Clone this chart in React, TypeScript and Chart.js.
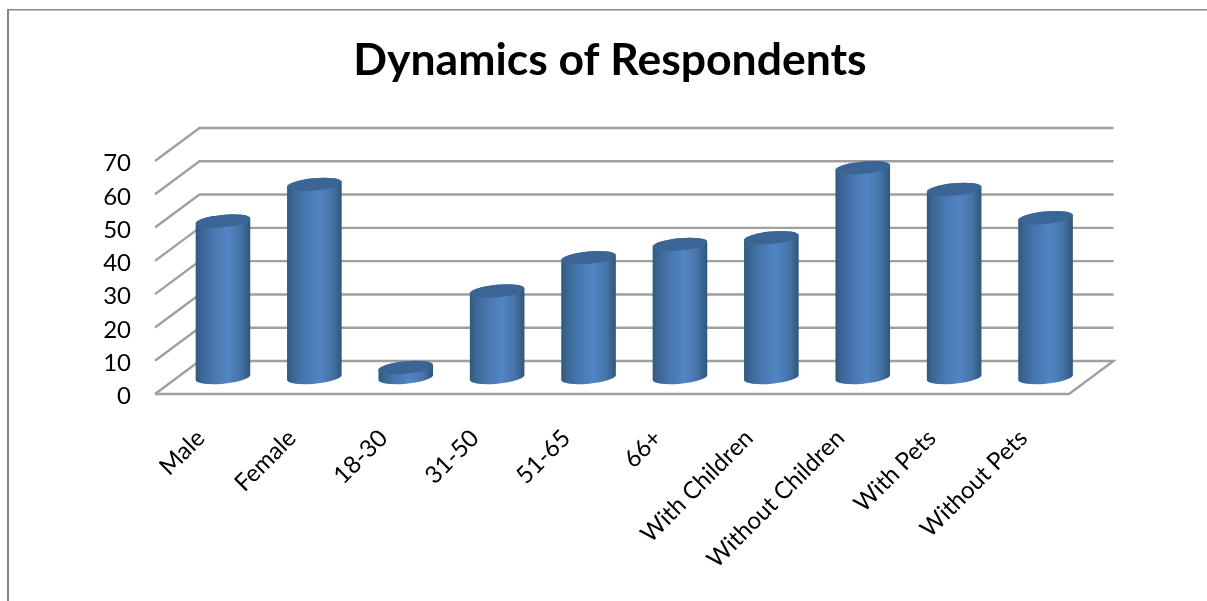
import React, { useEffect, useRef } from "react";
import { Chart, registerables } from "chart.js";

Chart.register(...registerables);

const categories = [
  "Male", "Female", "18-30", "31-50", "51-65", "66+",
  "With Children", "Without Children", "With Pets", "Without Pets",
];
const respondents = [47, 58, 3, 26, 36, 40, 42, 63, 56.5, 48];
const yTicks = [0, 10, 20, 30, 40, 50, 60, 70];

// Offset from the front plane to the back wall of the pseudo-3D box.
const DEPTH_X = 44.5;
const DEPTH_Y = 33;
const GRID = "#a0a0a0";

// Frame of the chart, open towards the page edges.
const framePlugin = {
  id: "frame",
  beforeDraw(chart: any) {
    const { ctx, width, height } = chart;
    ctx.save();
    ctx.fillStyle = "#ffffff";
    ctx.fillRect(0, 0, width, height);
    ctx.fillStyle = "#c4c4c4";
    ctx.fillRect(9, 10, width - 9, 1);
    ctx.fillStyle = "#868686";
    ctx.fillRect(7, 9, 2, height - 9);
    ctx.fillRect(7, 9, width - 7, 1);
    ctx.restore();
  },
};

// Back wall gridlines, side wall diagonals and the floor.
const boxPlugin = {
  id: "box",
  beforeDatasetsDraw(chart: any) {
    const { ctx, chartArea, scales } = chart;
    const { left, right } = chartArea;
    ctx.save();
    ctx.strokeStyle = GRID;
    ctx.lineWidth = 2.4;
    scales.y.ticks.forEach((tick: any) => {
      const y = scales.y.getPixelForValue(tick.value);
      ctx.beginPath();
      ctx.moveTo(left, y);
      ctx.lineTo(left + DEPTH_X, y - DEPTH_Y);
      ctx.lineTo(right + DEPTH_X, y - DEPTH_Y);
      if (tick.value === 0) {
        ctx.lineTo(right, y);
        ctx.lineTo(left, y);
      }
      ctx.stroke();
    });
    ctx.restore();
  },
};

// Each bar element is painted as a tilted cylinder standing mid-way into the box.
const cylinderPlugin = {
  id: "cylinder",
  afterDatasetsDraw(chart: any) {
    const { ctx } = chart;
    const tilt = -0.095;
    chart.getDatasetMeta(0).data.forEach((bar: any) => {
      const cx = bar.x + DEPTH_X / 2;
      const top = bar.y - DEPTH_Y / 2;
      const base = bar.base - DEPTH_Y / 2;
      const rx = bar.width / 2;
      const ry = 6.2;
      const grad = ctx.createLinearGradient(cx - rx, 0, cx + rx, 0);
      grad.addColorStop(0, "#31597f");
      grad.addColorStop(0.12, "#3c6796");
      grad.addColorStop(0.3, "#4776ad");
      grad.addColorStop(0.58, "#5285c5");
      grad.addColorStop(0.82, "#4674a8");
      grad.addColorStop(1, "#30557a");
      ctx.save();
      ctx.beginPath();
      ctx.ellipse(cx, base, rx, ry, tilt, 0, Math.PI);
      ctx.ellipse(cx, top, rx, ry, tilt, Math.PI, Math.PI * 2);
      ctx.closePath();
      ctx.fillStyle = grad;
      ctx.fill();
      ctx.beginPath();
      ctx.ellipse(cx, top, rx, ry, tilt, 0, Math.PI * 2);
      ctx.fillStyle = "#3b6595";
      ctx.fill();
      ctx.restore();
    });
  },
};

export default function App() {
  const ref = useRef<HTMLCanvasElement>(null);

  useEffect(() => {
    const chart = new Chart(ref.current!, {
      type: "bar",
      data: {
        labels: categories,
        datasets: [
          {
            label: "Respondents",
            data: respondents,
            backgroundColor: "transparent",
            categoryPercentage: 1,
            barPercentage: 0.6,
          },
        ],
      },
      options: {
        responsive: false,
        animation: false,
        layout: { padding: { left: 13, right: 0, top: 0, bottom: 0 } },
        plugins: {
          legend: { display: false },
          tooltip: { enabled: false },
          title: {
            display: true,
            text: "Dynamics of Respondents",
            color: "#000000",
            font: { family: "Lato", size: 44.5, weight: "bold", lineHeight: 1.2 },
            padding: { top: 34, bottom: 73.6 },
          },
        },
        scales: {
          x: {
            grid: { display: false },
            border: { display: false },
            afterFit(scale: any) {
              scale.height = 207;
            },
            ticks: {
              autoSkip: false,
              minRotation: 45,
              maxRotation: 45,
              padding: 22,
              color: "#000000",
              font: { family: "Lato", size: 24 },
            },
          },
          y: {
            min: 0,
            max: 70,
            grid: { display: false },
            border: { display: false },
            afterFit(scale: any) {
              scale.width = 142;
            },
            afterBuildTicks(scale: any) {
              scale.ticks = yTicks.map((value) => ({ value }));
            },
            // Lato sits high on its middle baseline, so nudge the labels onto the gridlines.
            afterUpdate(scale: any) {
              const compute = scale._computeLabelItems.bind(scale);
              scale._computeLabelItems = (area: any) =>
                compute(area).map((item: any) => ({ ...item, textOffset: 2.5 }));
              scale._labelItems = null;
            },
            ticks: {
              padding: 16,
              color: "#000000",
              font: { family: "Lato", size: 24 },
            },
          },
          // Empty axis that reserves the margin right of the box.
          spacer: {
            type: "linear",
            position: "right",
            grid: { display: false },
            border: { display: false },
            ticks: { display: false },
            afterFit(scale: any) {
              scale.width = 138;
            },
          },
        },
      },
      plugins: [framePlugin, boxPlugin, cylinderPlugin],
    });
    return () => chart.destroy();
  }, []);

  return (
    <canvas
      ref={ref}
      width={1207}
      height={601}
      style={{ position: "absolute", left: 0, top: 0, display: "block" }}
    />
  );
}
